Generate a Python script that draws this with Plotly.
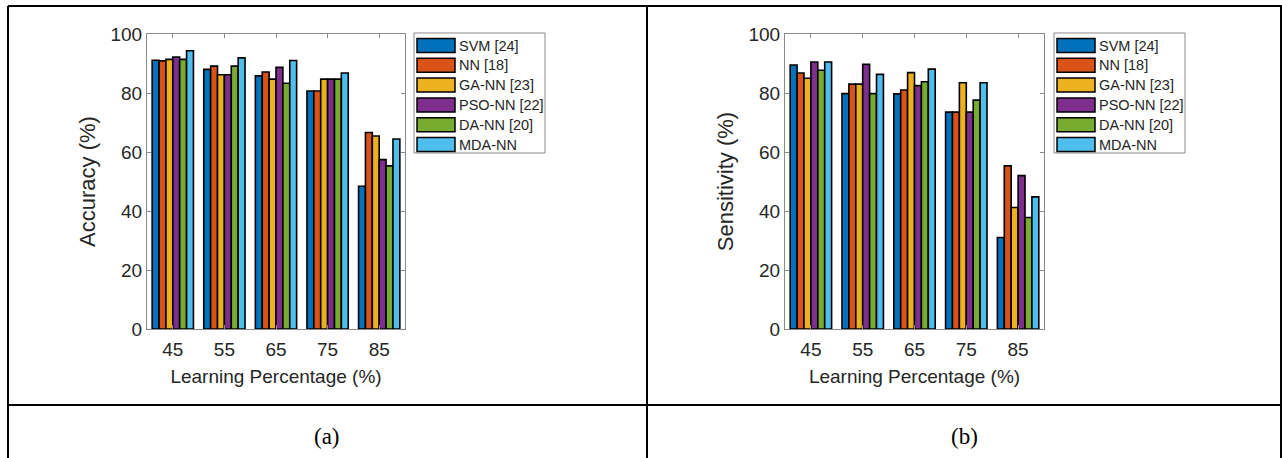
import plotly.graph_objects as go

# ---- data ----
learning_pct = [45, 55, 65, 75, 85]
series_names = ["SVM [24]", "NN [18]", "GA-NN [23]", "PSO-NN [22]", "DA-NN [20]", "MDA-NN"]
colors = ["#0072BD", "#D95319", "#EDB120", "#7E2F8E", "#77AC30", "#4DBEEE"]

accuracy = {
    "SVM [24]":    [91.1, 88.0, 85.8, 80.7, 48.4],
    "NN [18]":     [90.9, 89.1, 87.1, 80.7, 66.6],
    "GA-NN [23]":  [91.4, 86.2, 84.7, 84.7, 65.4],
    "PSO-NN [22]": [92.2, 86.2, 88.7, 84.7, 57.4],
    "DA-NN [20]":  [91.4, 89.1, 83.3, 84.7, 55.3],
    "MDA-NN":      [94.3, 91.9, 91.0, 86.8, 64.4],
}
sensitivity = {
    "SVM [24]":    [89.5, 79.8, 79.7, 73.5, 31.0],
    "NN [18]":     [86.8, 83.0, 81.0, 73.5, 55.3],
    "GA-NN [23]":  [85.0, 83.0, 86.9, 83.5, 41.2],
    "PSO-NN [22]": [90.5, 89.7, 82.5, 73.5, 52.0],
    "DA-NN [20]":  [87.7, 79.8, 83.8, 77.6, 37.8],
    "MDA-NN":      [90.5, 86.3, 88.1, 83.5, 44.8],
}
y_ticks = [0, 20, 40, 60, 80, 100]
captions = ["(a)", "(b)"]
y_titles = ["Accuracy (%)", "Sensitivity (%)"]
x_title = "Learning Percentage (%)"

W, H = 1282, 458
def px(x):
    return x / W
def py(y):
    return 1 - y / H

fig = go.Figure()
for name, col in zip(series_names, colors):
    fig.add_trace(go.Bar(x=learning_pct, y=accuracy[name], name=name, marker_color=col,
                         marker_line=dict(color="black", width=1.6), xaxis="x", yaxis="y",
                         showlegend=False))
for name, col in zip(series_names, colors):
    fig.add_trace(go.Bar(x=learning_pct, y=sensitivity[name], name=name, marker_color=col,
                         marker_line=dict(color="black", width=1.6), xaxis="x2", yaxis="y2",
                         showlegend=False))

tick_font = dict(family="Liberation Sans, Arial", size=19, color="#262626")
xtitle_font = dict(family="Liberation Sans, Arial", size=19, color="#262626")
ytitle_font = dict(family="Liberation Sans, Arial", size=22, color="#262626")
axis_common = dict(showline=True, mirror="ticks", linecolor="#8a8a8a", linewidth=1,
                   ticks="inside", ticklen=4, tickcolor="#8a8a8a", showgrid=False,
                   zeroline=False, tickfont=tick_font, automargin=False)

fig.update_layout(
    width=W, height=H, margin=dict(l=0, r=0, t=0, b=0),
    paper_bgcolor="white", plot_bgcolor="white",
    barmode="group", bargap=0.2, bargroupgap=0,
    xaxis=dict(domain=[px(147), px(405)], range=[40, 90], tickvals=learning_pct, ticklabelstandoff=3,
               title=dict(text=x_title, font=xtitle_font, standoff=10), anchor="y", **axis_common),
    yaxis=dict(domain=[py(329), py(34)], range=[0, 100], tickvals=y_ticks,
               title=dict(text=y_titles[0], font=ytitle_font, standoff=8), anchor="x", **axis_common),
    xaxis2=dict(domain=[px(785), px(1044)], range=[40, 90], tickvals=learning_pct, ticklabelstandoff=3,
                title=dict(text=x_title, font=xtitle_font, standoff=10), anchor="y2", **axis_common),
    yaxis2=dict(domain=[py(329), py(34)], range=[0, 100], tickvals=y_ticks,
                title=dict(text=y_titles[1], font=ytitle_font, standoff=8), anchor="x2", **axis_common),
)

shapes = []
annotations = []
# table frame
line_style = dict(color="black", width=2)
for (x0, y0, x1, y1) in [(8, 6, 1282, 6), (8, 405, 1282, 405), (8, 6, 8, 458),
                         (647, 6, 647, 458), (1281, 6, 1281, 458)]:
    shapes.append(dict(type="line", xref="paper", yref="paper", x0=px(x0), y0=py(y0),
                       x1=px(x1), y1=py(y1), line=line_style))

# manual legends
for lx in [414, 1054]:
    shapes.append(dict(type="rect", xref="paper", yref="paper", x0=px(lx), x1=px(lx + 131),
                       y0=py(153), y1=py(33), line=dict(color="#8a8a8a", width=1),
                       fillcolor="white", layer="below"))
    for i, (name, col) in enumerate(zip(series_names, colors)):
        cy = 45.5 + 19.8 * i
        shapes.append(dict(type="rect", xref="paper", yref="paper", x0=px(lx + 3), x1=px(lx + 41),
                           y0=py(cy + 7), y1=py(cy - 7), line=dict(color="black", width=1.5),
                           fillcolor=col))
        annotations.append(dict(xref="paper", yref="paper", x=px(lx + 43), y=py(cy), text=name,
                                showarrow=False, xanchor="left", yanchor="middle",
                                font=dict(family="Liberation Sans, Arial", size=14.5, color="#262626")))

for cap, cx in zip(captions, [327, 964]):
    annotations.append(dict(xref="paper", yref="paper", x=px(cx), y=py(436), text=cap,
                            showarrow=False, xanchor="center", yanchor="middle",
                            font=dict(family="Liberation Serif, Times New Roman", size=23, color="black")))

fig.update_layout(shapes=shapes, annotations=annotations)
fig.write_html("out.html", config={"displayModeBar": False},
               post_script="document.body.style.margin='0px';document.body.style.overflow='hidden';")
